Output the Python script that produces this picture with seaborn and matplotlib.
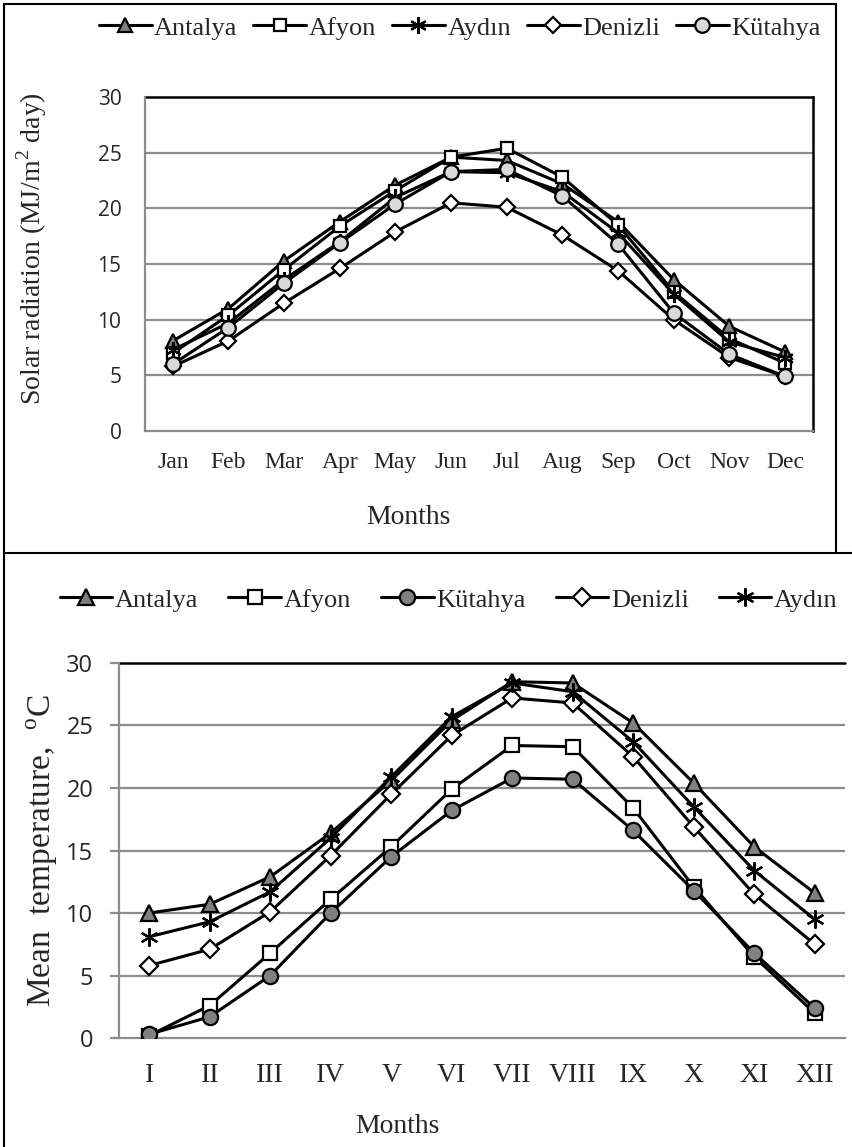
import numpy as np
import pandas as pd
import matplotlib
matplotlib.use("Agg")
import matplotlib.pyplot as plt
import seaborn as sns
from matplotlib.lines import Line2D
from matplotlib.ticker import FixedLocator

# month labels
months_en = ["Jan", "Feb", "Mar", "Apr", "May", "Jun", "Jul", "Aug", "Sep", "Oct", "Nov", "Dec"]
months_roman = ["I", "II", "III", "IV", "V", "VI", "VII", "VIII", "IX", "X", "XI", "XII"]

# solar radiation, MJ/m2 day
solar_antalya = [8.1, 11.0, 15.3, 18.8, 22.1, 24.6, 24.3, 22.2, 18.8, 13.6, 9.4, 7.1]
solar_afyon = [7.0, 10.4, 14.5, 18.4, 21.6, 24.6, 25.4, 22.8, 18.5, 12.5, 8.3, 6.1]
solar_aydin = [7.3, 9.7, 13.6, 17.0, 21.0, 23.3, 23.2, 21.5, 17.8, 12.3, 8.0, 6.6]
solar_denizli = [5.8, 8.1, 11.5, 14.6, 17.9, 20.5, 20.1, 17.6, 14.4, 10.0, 6.6, 4.9]
solar_kutahya = [6.0, 9.3, 13.3, 16.9, 20.4, 23.3, 23.5, 21.1, 16.8, 10.6, 6.9, 4.9]

# mean temperature, C
temp_antalya = [10.0, 10.7, 12.9, 16.4, 20.6, 25.4, 28.5, 28.4, 25.2, 20.4, 15.3, 11.6]
temp_afyon = [0.2, 2.6, 6.8, 11.1, 15.3, 19.9, 23.4, 23.3, 18.4, 12.1, 6.5, 2.0]
temp_kutahya = [0.3, 1.7, 5.0, 10.0, 14.5, 18.2, 20.8, 20.7, 16.6, 11.8, 6.8, 2.4]
temp_denizli = [5.8, 7.1, 10.1, 14.6, 19.5, 24.2, 27.2, 26.8, 22.5, 16.9, 11.5, 7.5]
temp_aydin = [8.1, 9.3, 11.7, 16.0, 20.9, 25.7, 28.4, 27.7, 23.7, 18.5, 13.4, 9.5]

top_series = [("Antalya", solar_antalya), ("Afyon", solar_afyon), ("Aydın", solar_aydin),
              ("Denizli", solar_denizli), ("Kütahya", solar_kutahya)]
bot_series = [("Antalya", temp_antalya), ("Afyon", temp_afyon), ("Kütahya", temp_kutahya),
              ("Denizli", temp_denizli), ("Aydın", temp_aydin)]

asterisk = (6, 2, 0)
top_style = {"Antalya": ("^", "#7f7f7f", 10), "Afyon": ("s", "white", 9),
             "Aydın": (asterisk, "black", 12), "Denizli": ("D", "white", 8.5),
             "Kütahya": ("o", "#d9d9d9", 10.5)}
bot_style = {"Antalya": ("^", "#7f7f7f", 11), "Afyon": ("s", "white", 10),
             "Aydın": (asterisk, "black", 13), "Denizli": ("D", "white", 9.5),
             "Kütahya": ("o", "#808080", 11)}

sns.set_style("white")
plt.rcParams["font.family"] = ["Liberation Serif", "DejaVu Serif"]
plt.rcParams["mathtext.fontset"] = "custom"
plt.rcParams["mathtext.rm"] = "Liberation Serif"

GRID = "#8c8c8c"
fig = plt.figure(figsize=(8.53, 11.47), dpi=100)
ax1 = fig.add_axes([0.170, 0.6242, 0.783, 0.2912])
ax2 = fig.add_axes([0.1395, 0.095, 0.851, 0.327])

x = np.arange(12)


def draw(ax, series, styles, lw):
    for name, vals in series:
        m, fc, ms = styles[name]
        df = pd.DataFrame({"m": x, "v": vals})
        sns.lineplot(data=df, x="m", y="v", ax=ax, color="black", lw=lw, marker=m, ms=ms,
                     markerfacecolor=fc, markeredgecolor="black", mew=1.6, label=name,
                     legend=False, zorder=3)


def base(ax):
    ax.set_xlim(-0.5, 11.5)
    ax.set_ylim(0, 30)
    ax.set_yticks(range(0, 31, 5))
    for v in range(5, 30, 5):
        ax.axhline(v, color=GRID, lw=1.6, zorder=1)
    ax.axhline(30, color="black", lw=1.8, zorder=2, clip_on=False)
    for s in ["left", "bottom"]:
        ax.spines[s].set_color(GRID)
        ax.spines[s].set_linewidth(1.6)
    ax.spines["top"].set_visible(False)
    ax.spines["right"].set_visible(False)
    ax.set_xticks(x)


# top chart
draw(ax1, top_series, top_style, 2.2)
base(ax1)
ax1.spines["right"].set_visible(True)
ax1.spines["right"].set_color("black")
ax1.spines["right"].set_linewidth(1.8)
ax1.set_xticklabels(months_en, fontsize=17)
ax1.tick_params(axis="x", length=0, pad=15)
ax1.tick_params(axis="y", length=0, pad=17)
for t in ax1.get_yticklabels():
    t.set_fontfamily("Open Sans")
    t.set_fontsize(15)
ax1.set_xlabel("Months", fontsize=20)
ax1.xaxis.label.set_va("center")
ax1.xaxis.set_label_coords(0.394, -0.26)
ax1.set_ylabel("Solar radiation (MJ/m$^\\mathrm{2}$ day)", fontsize=20)
ax1.yaxis.label.set_va("center")
ax1.yaxis.set_label_coords(-0.169, 0.545)
ax1.legend(loc="center", bbox_to_anchor=(0.539, 0.9756), bbox_transform=fig.transFigure,
           ncol=5, frameon=False, fontsize=19, handlelength=2.0, handletextpad=0.1,
           columnspacing=0.6, borderaxespad=0)

# bottom chart
draw(ax2, bot_series, bot_style, 2.2)
base(ax2)
ax2.set_xticklabels(months_roman, fontsize=20)
ax2.xaxis.set_minor_locator(FixedLocator(np.arange(-0.5, 12, 1)))
ax2.tick_params(axis="x", which="major", length=0, pad=18)
ax2.tick_params(axis="x", which="minor", length=6, width=1.6, color=GRID, direction="out")
ax2.tick_params(axis="y", length=6.5, width=1.6, color=GRID, direction="out", pad=12, left=True)
for t in ax2.get_yticklabels():
    t.set_fontfamily("Open Sans")
    t.set_fontsize(17)
ax2.set_xlabel("Months", fontsize=20)
ax2.xaxis.label.set_va("center")
ax2.xaxis.set_label_coords(0.384, -0.237)
ax2.set_ylabel("Mean  temperature,  $^\\mathrm{o}$C", fontsize=24)
ax2.yaxis.label.set_va("center")
ax2.yaxis.set_label_coords(-0.106, 0.50)
ax2.legend(loc="center", bbox_to_anchor=(0.526, 0.477), bbox_transform=fig.transFigure,
           ncol=5, frameon=False, fontsize=19, handlelength=2.0, handletextpad=0.1,
           columnspacing=1.13, borderaxespad=0)

# panel frames
W, H = 853.0, 1147.0
def fline(x0, y0, x1, y1):
    fig.add_artist(Line2D([x0 / W, x1 / W], [1 - y0 / H, 1 - y1 / H], color="black", lw=1.5))

fline(4, 4, 836, 4)
fline(4, 4, 4, 1147)
fline(836, 4, 836, 553)
fline(4, 553, 853, 553)

fig.savefig("out.png", dpi=100)
